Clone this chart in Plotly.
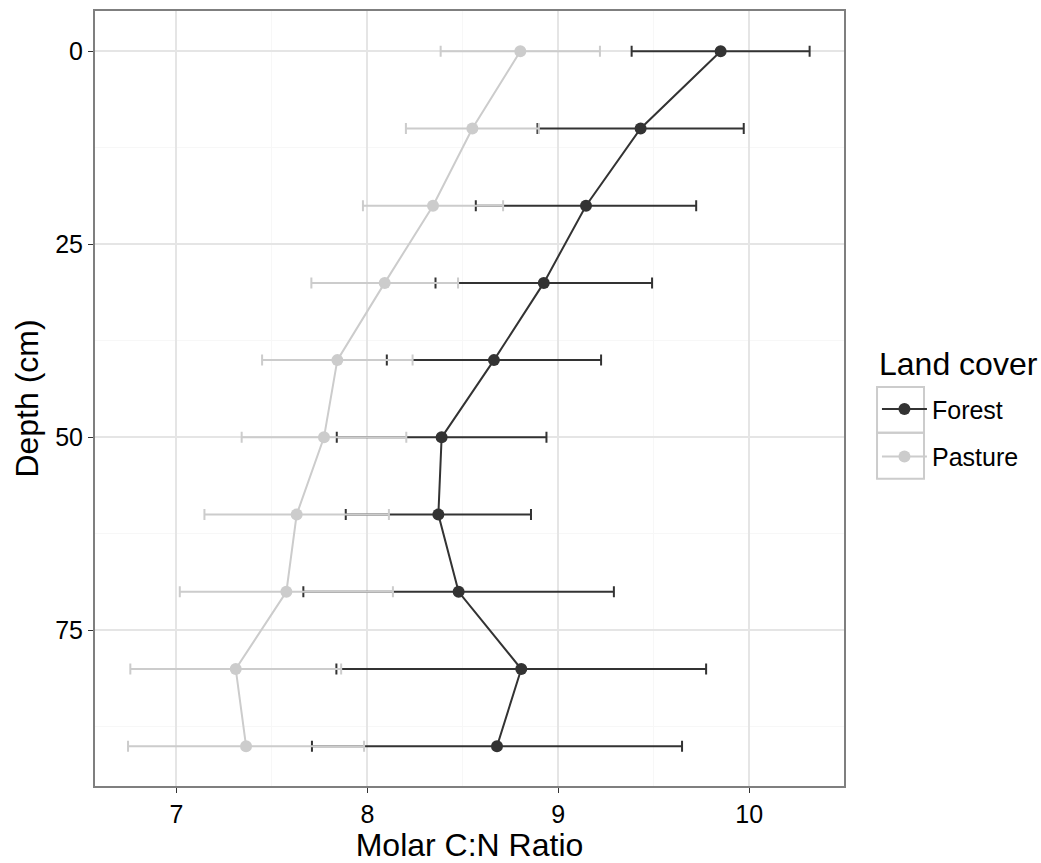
import plotly.graph_objects as go

depth = [0, 10, 20, 30, 40, 50, 60, 70, 80, 90]

forest_mean = [9.850, 9.431, 9.145, 8.924, 8.663, 8.389, 8.372, 8.478, 8.806, 8.679]
forest_err = [0.466, 0.540, 0.577, 0.567, 0.561, 0.549, 0.485, 0.813, 0.968, 0.969]

pasture_mean = [8.801, 8.550, 8.344, 8.091, 7.843, 7.773, 7.630, 7.576, 7.311, 7.365]
pasture_err = [0.417, 0.348, 0.367, 0.384, 0.394, 0.431, 0.483, 0.558, 0.552, 0.618]

x_ticks = [7, 8, 9, 10]
y_ticks = [0, 25, 50, 75]

FONT = "Liberation Sans, Arial, Helvetica, sans-serif"

fig = go.Figure()

for name, mean, err, col in [
    ("Forest", forest_mean, forest_err, "#333333"),
    ("Pasture", pasture_mean, pasture_err, "#CCCCCC"),
]:
    fig.add_trace(go.Scatter(
        x=mean, y=depth, name=name, mode="lines+markers",
        line=dict(color=col, width=2),
        marker=dict(color=col, size=12),
        error_x=dict(type="data", array=err, symmetric=True,
                     color=col, thickness=2, width=5.5),
        legendgroup=name,
    ))

grid_major = "#E5E5E5"
grid_minor = "#F7F7F7"

# legend key boxes (theme_bw style), in paper coordinates
key_boxes = [(1.0441, 1.1068, 0.4557, 0.5150), (1.0441, 1.1068, 0.3964, 0.4557)]
for x0, x1, y0, y1 in key_boxes:
    fig.add_shape(type="rect", xref="paper", yref="paper",
                  x0=x0, x1=x1, y0=y0, y1=y1,
                  line=dict(color="#CCCCCC", width=2), fillcolor="rgba(0,0,0,0)",
                  layer="below")

# legend title
fig.add_annotation(text="Land cover", xref="paper", yref="paper",
                   x=1.044, y=0.545, xanchor="left", yanchor="middle",
                   showarrow=False, font=dict(size=32, color="black"))

fig.update_layout(
    width=1041, height=863,
    margin=dict(l=95, r=197, t=11, b=77, autoexpand=False),
    paper_bgcolor="white", plot_bgcolor="white",
    font=dict(family=FONT, size=25, color="black"),
    xaxis=dict(
        range=[6.574, 10.496], tickvals=x_ticks, ticktext=[str(v) for v in x_ticks],
        showgrid=True, gridcolor=grid_major, gridwidth=1.5,
        minor=dict(dtick=0.5, showgrid=True, gridcolor=grid_minor, gridwidth=1),
        zeroline=False, automargin=False,
        ticks="outside", ticklen=5, tickcolor="#333333", tickwidth=1,
        tickfont=dict(size=25, color="black"),
        title=dict(text="Molar C:N Ratio", font=dict(size=32), standoff=3),
        showline=True, linecolor="#7F7F7F", linewidth=2, mirror=True,
    ),
    yaxis=dict(
        range=[95.15, -5.21], tickvals=y_ticks, ticktext=[str(v) for v in y_ticks],
        showgrid=True, gridcolor=grid_major, gridwidth=1.5,
        minor=dict(dtick=12.5, showgrid=True, gridcolor=grid_minor, gridwidth=1),
        zeroline=False, automargin=False,
        ticks="outside", ticklen=5, tickcolor="#333333", tickwidth=1,
        tickfont=dict(size=25, color="black"),
        title=dict(text="Depth (cm)", font=dict(size=32), standoff=7),
        showline=True, linecolor="#7F7F7F", linewidth=2, mirror=True,
    ),
    legend=dict(
        x=1.044, xanchor="left", y=0.4557, yanchor="middle",
        font=dict(size=25), tracegroupgap=12, itemwidth=45,
        bgcolor="rgba(0,0,0,0)",
    ),
)

fig.write_html("out.html", config={"displayModeBar": False},
               post_script="document.body.style.margin='0';")
